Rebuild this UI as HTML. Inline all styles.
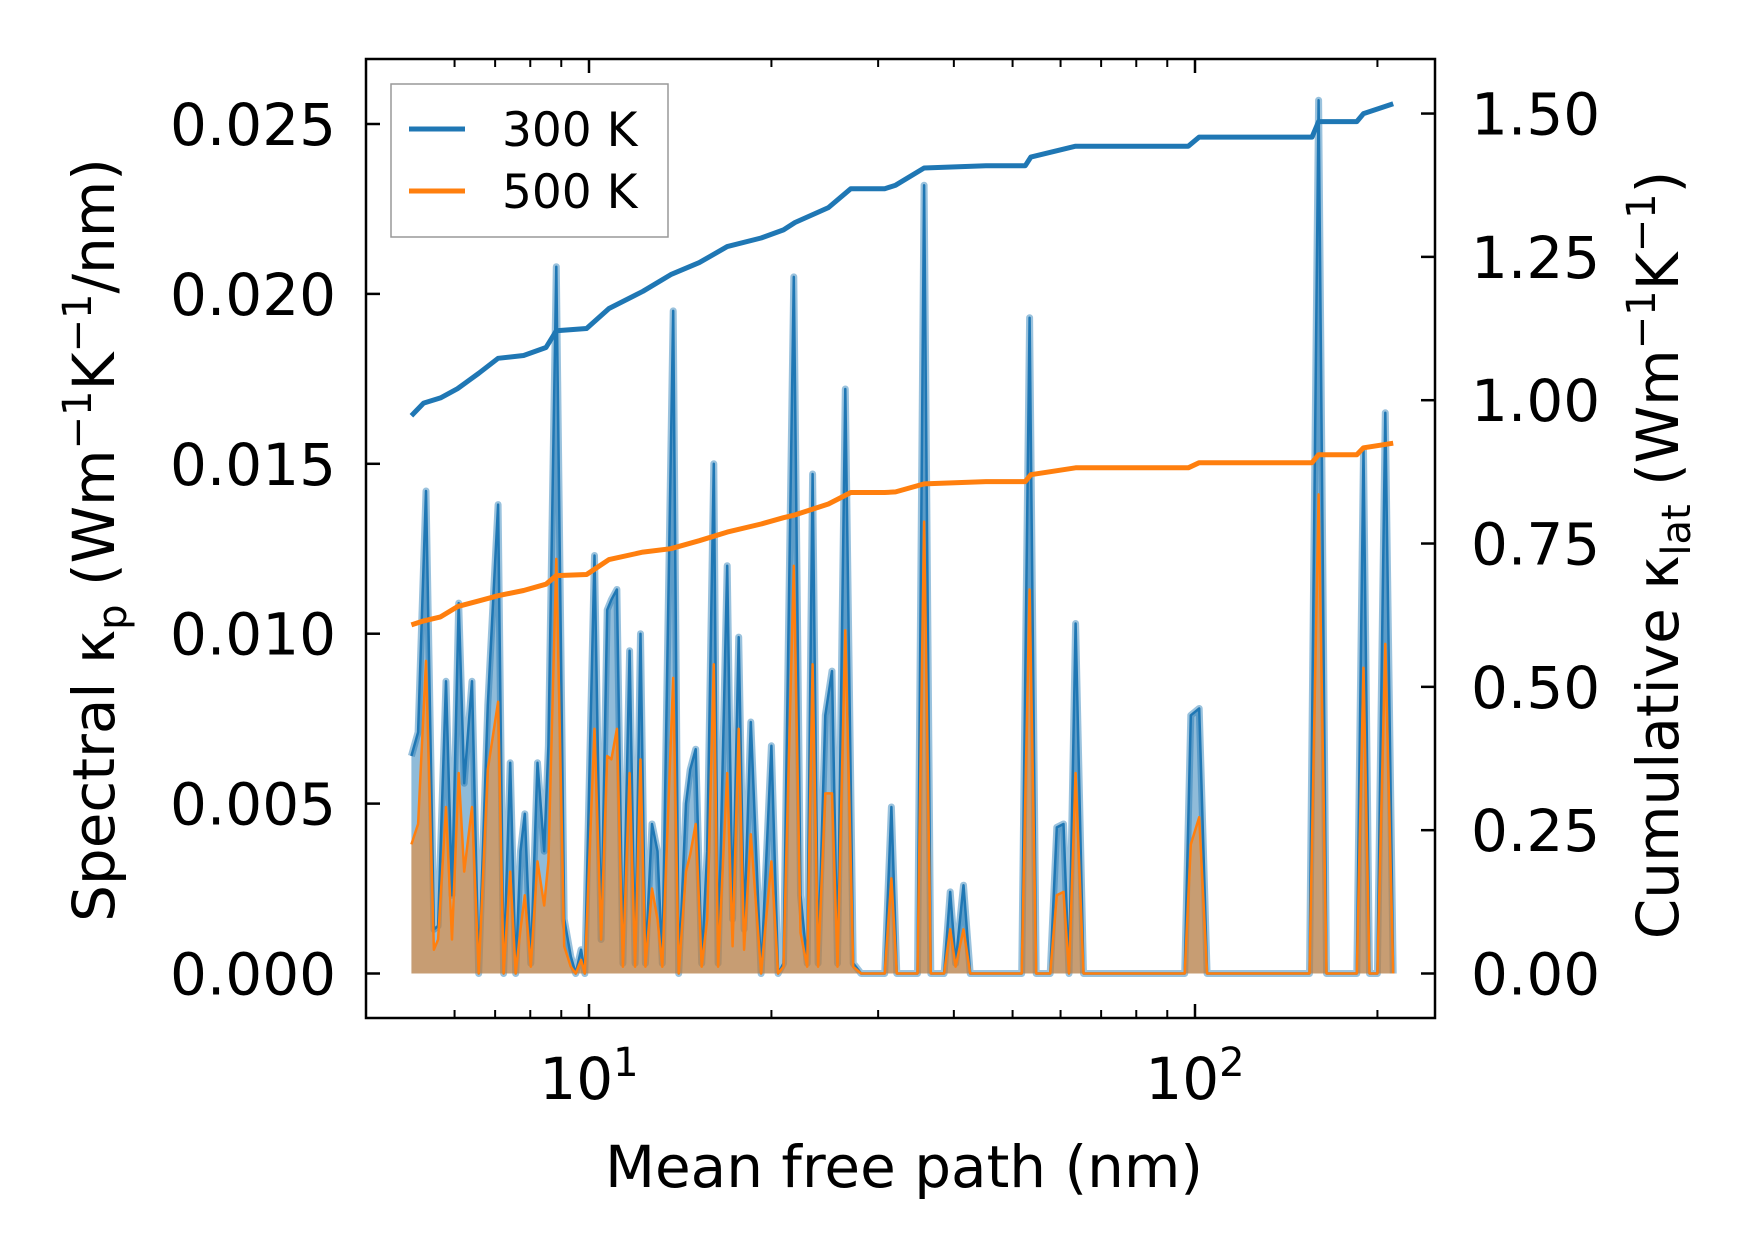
<!DOCTYPE html>
<html><head><meta charset="utf-8"><style>
html,body{margin:0;padding:0;background:#fff;}
svg{display:block;font-family:"DejaVu Sans","Liberation Sans",sans-serif;}
</style></head><body>
<svg id="chart" width="1753" height="1254" viewBox="0 0 1753 1254" xmlns="http://www.w3.org/2000/svg">
<rect width="1753" height="1254" fill="#fff"/>
<g id="marks"></g>
<g id="axes"></g>
</svg>
<script>
const mfpLog10 = [0.707,0.718,0.731,0.744,0.751,0.764,0.774,0.785,0.794,0.807,0.818,0.833,0.850,0.859,0.870,0.879,0.887,0.894,0.904,0.915,0.926,0.933,0.946,0.959,0.970,0.978,0.987,0.993,1.009,1.020,1.030,1.037,1.046,1.056,1.067,1.076,1.085,1.093,1.104,1.113,1.121,1.139,1.148,1.160,1.167,1.176,1.186,1.195,1.206,1.213,1.228,1.237,1.247,1.256,1.267,1.284,1.301,1.312,1.321,1.338,1.349,1.360,1.369,1.378,1.390,1.401,1.410,1.423,1.436,1.449,1.488,1.499,1.508,1.542,1.553,1.564,1.586,1.596,1.605,1.618,1.629,1.714,1.727,1.738,1.761,1.772,1.783,1.792,1.803,1.816,1.983,1.993,2.007,2.020,2.189,2.204,2.217,2.267,2.278,2.288,2.301,2.314,2.327];
const spec300 = [0.0064,0.0071,0.0142,0.0013,0.0014,0.0086,0.0023,0.0109,0.0056,0.0086,0,0.0079,0.0138,0,0.0062,0,0.0036,0.0047,0.0003,0.0062,0.0036,0.0067,0.0208,0.0016,0.0005,0,0.0007,0,0.0123,0.0010,0.0107,0.0110,0.0113,0.0003,0.0095,0.0003,0.0100,0.0003,0.0044,0.0036,0.0003,0.0195,0,0.0050,0.0060,0.0066,0.0003,0.0036,0.0150,0.0003,0.0120,0.0016,0.0099,0.0013,0.0074,0,0.0067,0,0.0003,0.0205,0.0023,0.0003,0.0147,0.0003,0.0076,0.0089,0.0003,0.0172,0.0003,0,0,0.0049,0,0,0.0232,0,0,0.0024,0.0003,0.0026,0,0,0.0193,0,0,0.0043,0.0044,0,0.0103,0,0,0.0076,0.0078,0,0,0.0257,0,0,0.0154,0,0,0.0165,0];
const spec500 = [0.0038,0.0044,0.0092,0.0007,0.0010,0.0049,0.0010,0.0059,0.0030,0.0049,0,0.0060,0.0080,0,0.0030,0,0.0013,0.0023,0.0002,0.0033,0.0020,0.0033,0.0122,0.0008,0.0002,0,0.0004,0,0.0072,0.0010,0.0064,0.0063,0.0072,0.0002,0.0059,0.0002,0.0063,0.0002,0.0025,0.0016,0.0002,0.0087,0,0.0030,0.0035,0.0044,0.0002,0.0016,0.0091,0.0002,0.0059,0.0008,0.0072,0.0007,0.0041,0,0.0033,0,0.0002,0.0120,0.0012,0.0002,0.0091,0.0002,0.0053,0.0053,0.0002,0.0101,0.0002,0,0,0.0028,0,0,0.0133,0,0,0.0013,0.0002,0.0013,0,0,0.0113,0,0,0.0023,0.0024,0,0.0059,0,0,0.0038,0.0046,0,0,0.0141,0,0,0.0090,0,0,0.0097,0];
const cumLog10 = [0.707,0.727,0.755,0.783,0.818,0.850,0.892,0.929,0.946,0.996,1.033,1.089,1.135,1.182,1.228,1.284,1.321,1.340,1.395,1.432,1.488,1.506,1.553,1.655,1.720,1.729,1.803,1.989,2.007,2.193,2.204,2.267,2.278,2.327];
const cum300 = [0.973,0.995,1.004,1.020,1.047,1.073,1.078,1.092,1.121,1.125,1.160,1.190,1.219,1.240,1.268,1.283,1.297,1.310,1.336,1.369,1.369,1.375,1.405,1.409,1.409,1.424,1.443,1.443,1.459,1.459,1.486,1.486,1.500,1.517];
const cum500 = [0.608,0.615,0.622,0.640,0.650,0.659,0.668,0.679,0.694,0.696,0.722,0.735,0.741,0.755,0.770,0.784,0.795,0.800,0.819,0.839,0.839,0.840,0.854,0.858,0.858,0.870,0.882,0.882,0.891,0.891,0.905,0.905,0.917,0.925];
const leftTicks = ["0.000","0.005","0.010","0.015","0.020","0.025"];
const leftTickVals = [0,0.005,0.010,0.015,0.020,0.025];
const rightTicks = ["0.00","0.25","0.50","0.75","1.00","1.25","1.50"];
const rightTickVals = [0,0.25,0.5,0.75,1.0,1.25,1.5];
const xMajor = [1,2];
const xMinor = [6,7,8,9,20,30,40,50,60,70,80,90,200];

const L=366,R=1435,T=59,B=1018;
const X = lg => 589 + (lg-1)*606;
const YL = v => 973.5 - v/0.005*169.9;
const YR = v => 973.5 - v*573.3;
const NS="http://www.w3.org/2000/svg";
const marks=document.getElementById('marks'), axes=document.getElementById('axes');
function mk(tag, parent, attrs){const e=document.createElementNS(NS,tag);for(const k in attrs)e.setAttribute(k,attrs[k]);parent.appendChild(e);return e;}

function specPath(vals){return mfpLog10.map((l,i)=>(i?'L':'M')+X(l).toFixed(1)+','+YL(vals[i]).toFixed(1)).join('');}
function fillPath(vals){const x0=X(mfpLog10[0]),x1=X(mfpLog10[mfpLog10.length-1]);return specPath(vals)+'L'+x1+','+YL(0)+'L'+x0+','+YL(0)+'Z';}

let e;
e=mk('path',marks,{d:fillPath(spec300),fill:'#1f77b4','fill-opacity':0.5,stroke:'none'});


e=mk('path',marks,{d:specPath(spec300),fill:'none',stroke:'#1f77b4','stroke-opacity':0.45,'stroke-width':7,'stroke-linejoin':'round'});


e=mk('path',marks,{d:specPath(spec300),fill:'none',stroke:'#1f77b4','stroke-width':2.5,'stroke-linejoin':'round'});


e=mk('path',marks,{d:fillPath(spec500),fill:'#ff7f0e','fill-opacity':0.5,stroke:'none'});


e=mk('path',marks,{d:specPath(spec500),fill:'none',stroke:'#ff7f0e','stroke-width':2.5,'stroke-linejoin':'round'});



function cumPath(vals){return cumLog10.map((l,i)=>(i?'L':'M')+X(l).toFixed(1)+','+YR(vals[i]).toFixed(1)).join('');}
e=mk('path',marks,{d:cumPath(cum300),fill:'none',stroke:'#1f77b4','stroke-width':5,'stroke-linejoin':'round'});


e=mk('path',marks,{d:cumPath(cum500),fill:'none',stroke:'#ff7f0e','stroke-width':5,'stroke-linejoin':'round'});



e=mk('rect',axes,{x:L,y:T,width:R-L,height:B-T,fill:'none',stroke:'#000','stroke-width':2.5});



const FS=58;
leftTickVals.forEach((v,i)=>{
  const y=YL(v);
  e=mk('line',axes,{x1:L,x2:L+14,y1:y,y2:y,stroke:'#000','stroke-width':2.5});
  
  
  e=mk('text',axes,{x:L-30,y:y+21,'text-anchor':'end','font-size':FS,fill:'#000'});
  e.textContent=leftTicks[i];
  
  
});
rightTickVals.forEach((v,i)=>{
  const y=YR(v);
  e=mk('line',axes,{x1:R-14,x2:R,y1:y,y2:y,stroke:'#000','stroke-width':2.5});
  
  
  e=mk('text',axes,{x:R+36,y:y+21,'text-anchor':'start','font-size':FS,fill:'#000'});
  e.textContent=rightTicks[i];
  
  
});
xMajor.forEach(p=>{
  const x=X(p);
  [[B,B-14],[T,T+14]].forEach(([a,b])=>{
    e=mk('line',axes,{x1:x,x2:x,y1:a,y2:b,stroke:'#000','stroke-width':2.5});
    
    
  });
  e=mk('text',axes,{x:x,y:1099,'text-anchor':'middle','font-size':FS,fill:'#000'});
  
  
  e.textContent='10';
  const s=mk('tspan',e,{dy:-23,'font-size':40});
  s.textContent=String(p);
});
xMinor.forEach(m=>{
  const x=X(Math.log10(m));
  [[B,B-8],[T,T+8]].forEach(([a,b])=>{
    e=mk('line',axes,{x1:x,x2:x,y1:a,y2:b,stroke:'#000','stroke-width':2});
    
    
  });
});

e=mk('text',axes,{x:904,y:1187,'text-anchor':'middle','font-size':FS,fill:'#000'});
e.textContent='Mean free path (nm)';



e=mk('text',axes,{x:0,y:0,'text-anchor':'middle','font-size':FS,fill:'#000',transform:'translate(114,540) rotate(-90)'});


e.innerHTML='Spectral κ<tspan font-size="40" dy="12">p</tspan><tspan dy="-12"> (Wm</tspan><tspan font-size="40" dy="-23">−1</tspan><tspan dy="23">K</tspan><tspan font-size="40" dy="-23">−1</tspan><tspan dy="23">/nm)</tspan>';

e=mk('text',axes,{x:0,y:0,'text-anchor':'middle','font-size':FS,fill:'#000',transform:'translate(1678,555) rotate(-90)'});


e.innerHTML='Cumulative κ<tspan font-size="40" dy="12">lat</tspan><tspan dy="-12"> (Wm</tspan><tspan font-size="40" dy="-23">−1</tspan><tspan dy="23">K</tspan><tspan font-size="40" dy="-23">−1</tspan><tspan dy="23">)</tspan>';

const lg=mk('g',axes,{});


e=mk('rect',lg,{x:391,y:84,width:277,height:153,fill:'#fff','fill-opacity':0.8,stroke:'#999','stroke-width':1.5});


[['300 K','#1f77b4',129],['500 K','#ff7f0e',191]].forEach(([t,c,y])=>{
  e=mk('line',lg,{x1:409,x2:465,y1:y,y2:y,stroke:c,'stroke-width':5});
  
  
  e=mk('text',lg,{x:502,y:y+17,'font-size':47,fill:'#000'});
  e.textContent=t;
  
  
});
</script>
</body></html>
